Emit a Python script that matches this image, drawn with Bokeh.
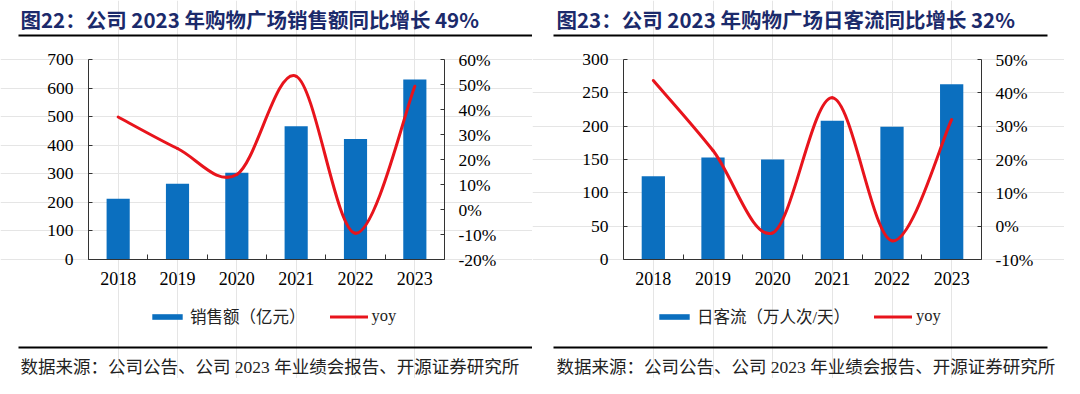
from bokeh.plotting import figure
from bokeh.models import (Range1d, LinearAxis, FixedTicker, PrintfTickFormatter,
                          Label, BoxAnnotation, Legend, LegendItem, ColumnDataSource)
from bokeh.layouts import row
from bokeh.embed import file_html
from bokeh.resources import INLINE

# ---------------- data ----------------
years = ["2018", "2019", "2020", "2021", "2022", "2023"]
sales = [213, 265, 304, 466, 422, 630]
sales_yoy = [37.0, 24.4, 14.0, 53.3, -9.5, 49.3]
traffic = [125, 153, 150, 208, 199, 263]
traffic_yoy = [43.7, 22.7, -2.0, 38.5, -4.4, 32.0]

title1 = "图22：公司 2023 年购物广场销售额同比增长 49%"
title2 = "图23：公司 2023 年购物广场日客流同比增长 32%"
bar_label1 = "销售额（亿元）"
bar_label2 = "日客流（万人次/天）"
line_label = "yoy"
source_text = "数据来源：公司公告、公司 2023 年业绩会报告、开源证券研究所"

BAR = "#0B6FBF"
RED = "#E8141C"
NAVY = "#1B2A6B"
AX = "#333333"
SERIF = "Liberation Serif"
CJK = "Noto Sans CJK SC"
MIX = "Liberation Serif, Noto Sans CJK SC"

W, H = 532, 378
FT, FB = 59, 259   # plot-area top / bottom (pixels)


def smooth_segments(xs, ys):
    n = len(xs)
    P = list(zip(xs, ys))
    d = dict(x0=[], y0=[], x1=[], y1=[], cx0=[], cy0=[], cx1=[], cy1=[])
    for i in range(n - 1):
        pm = P[max(i - 1, 0)]
        p0 = P[i]
        p1 = P[i + 1]
        p2 = P[min(i + 2, n - 1)]
        d["x0"].append(p0[0]); d["y0"].append(p0[1])
        d["x1"].append(p1[0]); d["y1"].append(p1[1])
        d["cx0"].append(p0[0] + (p1[0] - pm[0]) / 6)
        d["cy0"].append(p0[1] + (p1[1] - pm[1]) / 6)
        d["cx1"].append(p1[0] - (p2[0] - p0[0]) / 6)
        d["cy1"].append(p1[1] - (p2[1] - p0[1]) / 6)
    return d


def span_range(lo, hi, a, b, total):
    # lo..hi occupy pixels a..b of a 0..total extent
    u = (b - a) / (hi - lo)
    return Range1d(lo - a / u, hi + (total - b) / u)


def style_axis(ax, size):
    ax.axis_line_color = AX
    ax.major_tick_line_color = AX
    ax.major_label_text_font = SERIF
    ax.major_label_text_font_size = size
    ax.major_label_text_color = "black"


def panel(cx, fl, fr, bars, yoy, ymax, ystep, ylo, yhi,
          title, bar_label, title_x, rule_l, rule_r, leg_x):
    n = len(years)
    xr = span_range(0.5, n + 0.5, fl - cx, fr - cx, W)
    yr = span_range(0, ymax, H - FB, H - FT, H)
    p = figure(width=W, height=H, output_backend="svg", toolbar_location=None,
               x_range=xr, y_range=yr, min_border=0,
               x_axis_location=None, y_axis_location=None,
               background_fill_color="white", border_fill_color="white")
    p.outline_line_color = None
    p.extra_y_ranges = {"yoy": span_range(ylo, yhi, H - FB, H - FT, H)}

    xs = list(range(1, n + 1))
    src = ColumnDataSource(dict(x=xs, v=bars))
    vb = p.vbar(x="x", top="v", width=0.39, source=src, fill_color=BAR, line_color=None)

    seg = smooth_segments(xs, yoy)
    bz = p.bezier(x0="x0", y0="y0", x1="x1", y1="y1", cx0="cx0", cy0="cy0",
                  cx1="cx1", cy1="cy1", source=ColumnDataSource(seg),
                  line_color=RED, line_width=3, line_cap="round", y_range_name="yoy")

    xa = LinearAxis(fixed_location=0, bounds=(0.5, n + 0.5),
                    ticker=FixedTicker(ticks=xs, minor_ticks=[x + 0.5 for x in xs[:-1]]))
    xa.major_label_overrides = {x: y for x, y in zip(xs, years)}
    xa.major_tick_out = 0
    xa.major_tick_in = 0
    xa.minor_tick_in = 5
    xa.minor_tick_out = 0
    xa.minor_tick_line_color = AX
    style_axis(xa, "18px")
    xa.major_label_standoff = 12
    p.add_layout(xa, "below")

    ya = LinearAxis(fixed_location=0.5, bounds=(0, ymax),
                    ticker=FixedTicker(ticks=list(range(0, ymax + 1, ystep))))
    ya.major_tick_in = 4
    ya.major_tick_out = 0
    ya.minor_tick_line_color = None
    style_axis(ya, "17.5px")
    ya.major_label_standoff = 15
    p.add_layout(ya, "left")

    ra = LinearAxis(y_range_name="yoy", fixed_location=n + 0.5, bounds=(ylo, yhi),
                    ticker=FixedTicker(ticks=list(range(ylo, yhi + 1, 10))),
                    formatter=PrintfTickFormatter(format="%d%%"))
    ra.major_tick_in = 4
    ra.major_tick_out = 0
    ra.minor_tick_line_color = None
    style_axis(ra, "17.5px")
    ra.major_label_standoff = 14
    p.add_layout(ra, "right")

    def sx(X):
        return X - cx

    def sy(Y):
        return H - Y

    def rule(y):
        p.add_layout(BoxAnnotation(left=sx(rule_l), right=sx(rule_r),
                                   top=sy(y - 1), bottom=sy(y + 1),
                                   left_units="screen", right_units="screen",
                                   top_units="screen", bottom_units="screen",
                                   fill_color="black", fill_alpha=1, line_color=None))

    p.add_layout(Label(x=sx(title_x), y=sy(18), x_units="screen", y_units="screen",
                       text=title, text_font=CJK, text_font_size="20.5px",
                       text_font_style="bold", text_color=NAVY,
                       text_baseline="middle", text_align="left"))
    rule(35)
    rule(347)
    p.add_layout(Label(x=sx(title_x), y=sy(366), x_units="screen", y_units="screen",
                       text=source_text, text_font=MIX, text_font_size="17.5px",
                       text_color="#222222", text_baseline="middle", text_align="left"))

    leg = Legend(items=[LegendItem(label=bar_label, renderers=[vb]),
                        LegendItem(label=line_label, renderers=[bz])],
                 orientation="horizontal", location=(sx(leg_x), sy(318) - 10),
                 padding=0, margin=0, spacing=24, label_standoff=4,
                 glyph_width=38, glyph_height=7, label_height=20,
                 border_line_color=None, background_fill_alpha=0,
                 label_text_font=MIX, label_text_font_size="16.5px",
                 label_text_color="#222222")
    p.add_layout(leg)
    return p


p1 = panel(0, 88, 444, sales, sales_yoy, 700, 100, -20, 60,
           title1, bar_label1, 20, 18, 532, 148)
p2 = panel(W, 623, 981, traffic, traffic_yoy, 300, 50, -10, 50,
           title2, bar_label2, 556, 553, 1047, 655)

layout = row(p1, p2)
open("out.html", "w").write(file_html(layout, INLINE))
